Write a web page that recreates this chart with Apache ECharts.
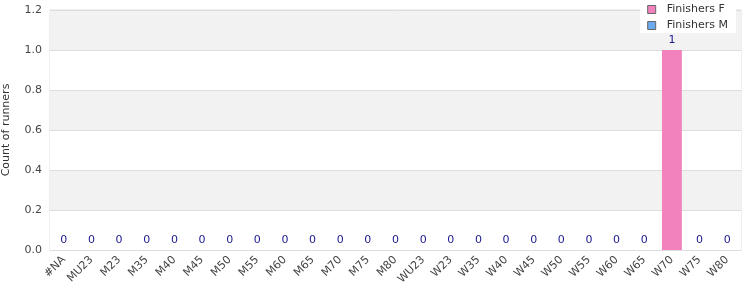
<!DOCTYPE html>
<html><head><meta charset="utf-8">
<script src="https://cdn.jsdelivr.net/npm/echarts@6/dist/echarts.min.js"></script>
<style>html,body{margin:0;padding:0;background:#fff}#c{width:750px;height:300px}</style>
</head><body><div id="c"></div>
<script>
const categories = ['#NA','MU23','M23','M35','M40','M45','M50','M55','M60','M65','M70','M75','M80','WU23','W23','W35','W40','W45','W50','W55','W60','W65','W70','W75','W80'];
const finishersF = [0,0,0,0,0,0,0,0,0,0,0,0,0,0,0,0,0,0,0,0,0,0,1,0,0];
const finishersM = [0,0,0,0,0,0,0,0,0,0,0,0,0,0,0,0,0,0,0,0,0,0,0,0,0];
const yTicks = {min:0, max:1.2, interval:0.2};

const chart = echarts.init(document.getElementById('c'));
chart.setOption({
  animation:false,
  textStyle:{fontFamily:'DejaVu Sans'},
  grid:{left:50,right:9,top:10,bottom:50,show:true,borderColor:'#ddd',borderWidth:1,outerBoundsMode:'none',containLabel:false},
  legend:{
    orient:'vertical', right:14, top:0, backgroundColor:'#fff', padding:[4,8,2,7],
    itemWidth:8, itemHeight:8, itemGap:5,
    textStyle:{fontSize:11,color:'#333',fontFamily:'DejaVu Sans',padding:[0,0,0,6]},
    data:[
      {name:'Finishers F', icon:'rect', itemStyle:{borderColor:'#666',borderWidth:1}},
      {name:'Finishers M', icon:'rect', itemStyle:{borderColor:'#666',borderWidth:1}}
    ]
  },
  xAxis:{
    type:'category', data:categories,
    axisLine:{lineStyle:{color:'#ddd'}}, axisTick:{show:false},
    axisLabel:{rotate:45, fontSize:11, color:'#444', interval:0, margin:8}
  },
  yAxis:{
    type:'value', min:yTicks.min, max:yTicks.max, interval:yTicks.interval,
    name:'Count of runners', nameLocation:'middle', nameGap:38, nameRotate:90,
    nameTextStyle:{fontSize:11,color:'#333'},
    axisLine:{show:false}, axisTick:{show:false},
    axisLabel:{fontSize:11,color:'#444',formatter:v=>v.toFixed(1)},
    splitLine:{lineStyle:{color:'#ddd'}},
    splitArea:{show:true, areaStyle:{color:['#fff','#f2f2f2']}}
  },
  series:[
    {name:'Finishers F', type:'bar', stack:'a', data:finishersF, barWidth:'72%',
     itemStyle:{color:'#f282be'},
     label:{show:true, position:'top', color:'#1a1a8c', fontSize:11, distance:4}},
    {name:'Finishers M', type:'bar', stack:'a', data:finishersM, barWidth:'72%',
     itemStyle:{color:'#6aaaf0'}}
  ]
});
</script></body></html>
